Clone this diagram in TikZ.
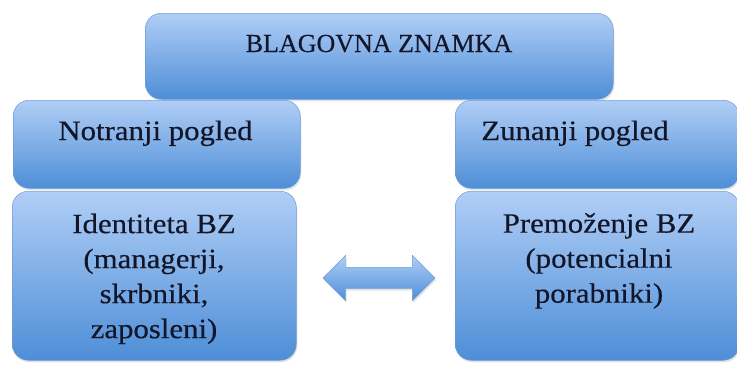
\documentclass[tikz,border=0pt]{standalone}
\usepackage{fontspec}
\setmainfont[FakeBold=0.4]{Liberation Serif}
\newfontfamily\widefont[FakeStretch=1.1,FakeBold=0.4]{Liberation Serif}
\usetikzlibrary{shapes.arrows,shadows}
\definecolor{boxtop}{RGB}{176,206,246}
\definecolor{boxbot}{RGB}{78,142,215}
\definecolor{boxedge}{RGB}{112,156,216}
\definecolor{txt}{RGB}{18,22,40}
\begin{document}
\begin{tikzpicture}[x=1pt,y=-1pt,
  box/.style={draw=boxedge, line width=0.5pt, rounded corners=16pt,
    top color=boxtop, bottom color=boxbot, inner sep=0pt, anchor=north west,
    drop shadow={opacity=0.22, shadow xshift=1pt, shadow yshift=-2pt}},
  lbl/.style={text=txt, font=\widefont\fontsize{28}{35}\selectfont, inner sep=0pt, align=center},
  blockarrow/.style={double arrow, double arrow head extend=12pt, inner sep=10.5pt,
    minimum height=112pt, draw=boxedge, line width=0.4pt,
    top color=boxtop, bottom color=boxbot,
    drop shadow={opacity=0.22, shadow xshift=1pt, shadow yshift=-2pt}}]
\useasboundingbox (0,0) rectangle (737,365);
% boxes
\node[box, minimum width=468pt, minimum height=86pt] (top) at (145,13) {};
\node[box, minimum width=287pt, minimum height=88pt] (notr) at (13,100) {};
\node[box, minimum width=284pt, minimum height=88pt] (zun) at (455,100) {};
\node[box, minimum width=284pt, minimum height=169pt] (iden) at (12,191) {};
\node[box, minimum width=284pt, minimum height=169pt] (prem) at (455,191) {};
% texts
\node[lbl, anchor=base, font=\rmfamily\fontsize{26}{32}\selectfont] (ttop) at (379,52) {BLAGOVNA ZNAMKA};
\node[lbl, anchor=base] (tnotr) at (155.5,140) {Notranji pogled};
\node[lbl, anchor=base] (tzun) at (575,140) {Zunanji pogled};
\node[lbl, anchor=north] (tiden) at (154,213.5) {Identiteta BZ\\(managerji,\\skrbniki,\\zaposleni)};
\node[lbl, anchor=north] (tprem) at (599,213) {Premoženje BZ\\(potencialni\\porabniki)};
% double arrow
\node[blockarrow] (dbl) at (379,278) {};
\end{tikzpicture}
\end{document}
